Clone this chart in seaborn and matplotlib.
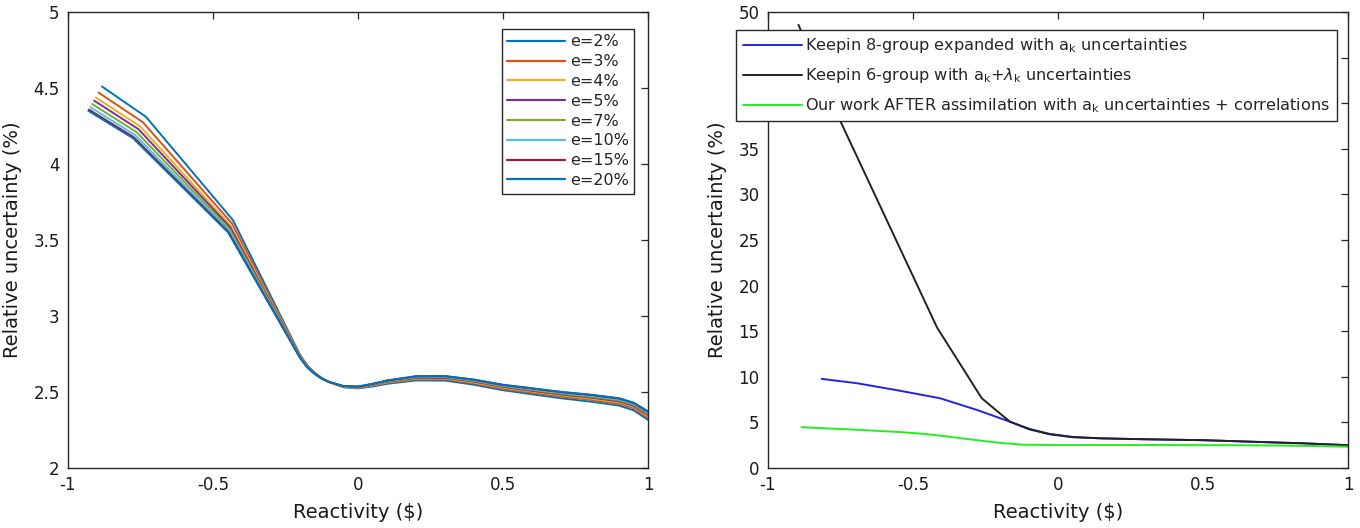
import numpy as np
import pandas as pd
import matplotlib
matplotlib.use("Agg")
import matplotlib.pyplot as plt
import seaborn as sns

# ---------------- Left panel data ----------------
labels_left = ["e=2%", "e=3%", "e=4%", "e=5%", "e=7%", "e=10%", "e=15%", "e=20%"]
colors_left = ["#0072BD", "#D95319", "#EDB120", "#7E2F8E", "#77AC30", "#4DBEEE", "#A2142F", "#0072BD"]

rho_tail = [-0.20, -0.175, -0.15, -0.125, -0.10, -0.05, 0.00, 0.05, 0.10, 0.20, 0.30, 0.40,
            0.50, 0.60, 0.70, 0.80, 0.90, 0.95, 1.00]

head_x_e2 = [-0.883, -0.731, -0.431]
head_x_e3 = [-0.895, -0.742, -0.435]
head_x_e4 = [-0.904, -0.751, -0.439]
head_x_e5 = [-0.910, -0.757, -0.441]
head_x_e7 = [-0.917, -0.763, -0.443]
head_x_e10 = [-0.923, -0.769, -0.445]
head_x_e15 = [-0.928, -0.774, -0.447]
head_x_e20 = [-0.930, -0.776, -0.448]

head_y_e2 = [4.510, 4.310, 3.630]
head_y_e3 = [4.470, 4.275, 3.610]
head_y_e4 = [4.438, 4.247, 3.594]
head_y_e5 = [4.417, 4.229, 3.584]
head_y_e7 = [4.395, 4.209, 3.572]
head_y_e10 = [4.374, 4.191, 3.562]
head_y_e15 = [4.358, 4.177, 3.554]
head_y_e20 = [4.350, 4.170, 3.550]

tail_y_e2 = [2.745, 2.675, 2.628, 2.592, 2.566, 2.531, 2.524, 2.536, 2.554, 2.576, 2.575, 2.548,
             2.512, 2.485, 2.459, 2.437, 2.411, 2.380, 2.317]
tail_y_e3 = [2.740, 2.672, 2.626, 2.591, 2.566, 2.533, 2.527, 2.541, 2.560, 2.583, 2.583, 2.557,
             2.521, 2.495, 2.470, 2.449, 2.423, 2.393, 2.331]
tail_y_e4 = [2.736, 2.669, 2.624, 2.590, 2.566, 2.535, 2.529, 2.544, 2.564, 2.589, 2.589, 2.563,
             2.528, 2.503, 2.478, 2.458, 2.433, 2.403, 2.342]
tail_y_e5 = [2.733, 2.667, 2.623, 2.590, 2.566, 2.536, 2.531, 2.546, 2.567, 2.592, 2.592, 2.568,
             2.533, 2.508, 2.483, 2.464, 2.439, 2.409, 2.349]
tail_y_e7 = [2.731, 2.666, 2.622, 2.589, 2.566, 2.537, 2.533, 2.549, 2.570, 2.596, 2.597, 2.572,
             2.538, 2.514, 2.489, 2.470, 2.446, 2.416, 2.357]
tail_y_e10 = [2.728, 2.664, 2.621, 2.589, 2.566, 2.538, 2.534, 2.551, 2.573, 2.600, 2.601, 2.577,
              2.543, 2.519, 2.495, 2.476, 2.452, 2.423, 2.365]
tail_y_e15 = [2.726, 2.663, 2.620, 2.588, 2.566, 2.539, 2.535, 2.553, 2.575, 2.603, 2.604, 2.580,
              2.546, 2.523, 2.499, 2.481, 2.457, 2.428, 2.370]
tail_y_e20 = [2.725, 2.662, 2.619, 2.588, 2.566, 2.539, 2.536, 2.554, 2.576, 2.604, 2.605, 2.582,
              2.548, 2.525, 2.501, 2.483, 2.459, 2.430, 2.373]

heads_x = [head_x_e2, head_x_e3, head_x_e4, head_x_e5, head_x_e7, head_x_e10, head_x_e15, head_x_e20]
heads_y = [head_y_e2, head_y_e3, head_y_e4, head_y_e5, head_y_e7, head_y_e10, head_y_e15, head_y_e20]
tails_y = [tail_y_e2, tail_y_e3, tail_y_e4, tail_y_e5, tail_y_e7, tail_y_e10, tail_y_e15, tail_y_e20]

# ---------------- Right panel data ----------------
labels_right = [r"Keepin 8-group expanded with a$_\mathregular{k}$ uncertainties",
                r"Keepin 6-group with a$_\mathregular{k}$+$\lambda_\mathregular{k}$ uncertainties",
                r"Our work AFTER assimilation with a$_\mathregular{k}$ uncertainties + correlations"]
colors_right = ["#2222EE", "#222222", "#22EE22"]

keepin8_x = [-0.815, -0.694, -0.55, -0.407, -0.28, -0.166, -0.10, -0.03, 0.05, 0.15, 0.30, 0.50, 0.70, 0.85, 1.00]
keepin8_y = [9.77, 9.30, 8.50, 7.65, 6.37, 5.08, 4.30, 3.75, 3.40, 3.25, 3.15, 3.05, 2.85, 2.70, 2.50]

keepin6_x = [-0.895, -0.75, -0.417, -0.263, -0.166, -0.10, -0.03, 0.05, 0.15, 0.30, 0.50, 0.70, 0.85, 1.00]
keepin6_y = [48.6, 38.0, 15.4, 7.65, 5.08, 4.25, 3.70, 3.38, 3.25, 3.15, 3.05, 2.85, 2.70, 2.50]

ourwork_x = [-0.884, -0.70, -0.55, -0.464, -0.38, -0.293, -0.20, -0.12, 0.00, 0.30, 0.60, 0.80, 0.90, 1.00]
ourwork_y = [4.47, 4.20, 3.95, 3.75, 3.45, 3.10, 2.75, 2.55, 2.52, 2.52, 2.50, 2.45, 2.40, 2.33]

xticks = [-1, -0.5, 0, 0.5, 1]
xticklabels = ["-1", "-0.5", "0", "0.5", "1"]
yticks_left = [2, 2.5, 3, 3.5, 4, 4.5, 5]
yticklabels_left = ["2", "2.5", "3", "3.5", "4", "4.5", "5"]
yticks_right = [0, 5, 10, 15, 20, 25, 30, 35, 40, 45, 50]

# ---------------- Build data frames ----------------
rows = []
for lab, hx, hy, ty in zip(labels_left, heads_x, heads_y, tails_y):
    for xv, yv in zip(list(hx) + rho_tail, list(hy) + ty):
        rows.append((lab, xv, yv))
df_left = pd.DataFrame(rows, columns=["series", "rho", "unc"])

rows = []
for lab, xs, ys in zip(labels_right, [keepin8_x, keepin6_x, ourwork_x], [keepin8_y, keepin6_y, ourwork_y]):
    for xv, yv in zip(xs, ys):
        rows.append((lab, xv, yv))
df_right = pd.DataFrame(rows, columns=["series", "rho", "unc"])

# ---------------- Plot ----------------
sns.set_theme(style="white")
plt.rcParams["font.family"] = ["DejaVu Sans"]
plt.rcParams["mathtext.fontset"] = "dejavusans"
edge = "#262626"

fig = plt.figure(figsize=(13.6, 5.28), dpi=100)
axL = fig.add_axes([68 / 1360, 60 / 528, 580 / 1360, 456 / 528])
axR = fig.add_axes([768 / 1360, 60 / 528, 580 / 1360, 456 / 528])

sns.lineplot(data=df_left, x="rho", y="unc", hue="series", hue_order=labels_left,
             palette=colors_left, estimator=None, sort=False, linewidth=1.4, ax=axL)
sns.lineplot(data=df_right, x="rho", y="unc", hue="series", hue_order=labels_right,
             palette=colors_right, estimator=None, sort=False, linewidth=1.4, ax=axR)

for ax in (axL, axR):
    ax.set_xlim(-1, 1)
    ax.set_xticks(xticks)
    ax.set_xticklabels(xticklabels)
    ax.set_xlabel("Reactivity ($)", fontsize=14, color="#1a1a1a", labelpad=6)
    ax.set_ylabel("Relative uncertainty (%)", fontsize=14, color="#1a1a1a", labelpad=8)
    ax.tick_params(direction="in", length=5, width=0.9, top=True, right=True,
                   labelsize=12, colors=edge, labelcolor="#1a1a1a", pad=6)
    for sp in ax.spines.values():
        sp.set_visible(True)
        sp.set_color(edge)
        sp.set_linewidth(1.0)
    ax.grid(False)

axL.set_ylim(2, 5)
axL.set_yticks(yticks_left)
axL.set_yticklabels(yticklabels_left)
axR.set_ylim(0, 50)
axR.set_yticks(yticks_right)

legL = axL.legend(loc="upper left", bbox_to_anchor=(0.748, 0.963), borderaxespad=0,
                  fontsize=11.5, frameon=True, fancybox=False, edgecolor=edge, framealpha=1,
                  handlelength=3.6, handletextpad=0.3, labelspacing=0.3, borderpad=0.35)
legL.get_frame().set_linewidth(1.0)
for ln in legL.get_lines():
    ln.set_linewidth(1.6)

legR = axR.legend(loc="upper left", bbox_to_anchor=(-0.055, 0.961), borderaxespad=0,
                  fontsize=11.6, frameon=True, fancybox=False, edgecolor=edge, framealpha=1,
                  handlelength=3.7, handletextpad=0.2, labelspacing=0.68, borderpad=0.4)
legR.get_frame().set_linewidth(1.0)
legR.set_zorder(10)
for ln in legR.get_lines():
    ln.set_linewidth(1.4)

fig.savefig("out.png", dpi=100)
